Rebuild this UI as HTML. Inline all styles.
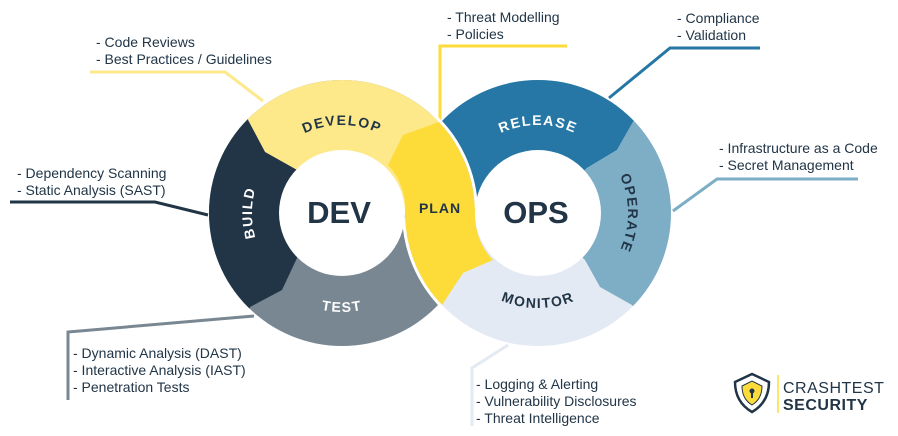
<!DOCTYPE html>
<html><head><meta charset="utf-8"><style>
html,body{margin:0;padding:0;background:#fff;}
svg{display:block;font-family:"Liberation Sans",sans-serif;}
.t{font-size:14px;fill:#213547;}
.seg{font-size:14px;font-weight:bold;letter-spacing:1.5px;}
</style></head><body>
<svg width="898" height="436" viewBox="0 0 898 436">
<defs>
<clipPath id="cl"><path clip-rule="evenodd" d="M209 213a133 133 0 1 0 266 0a133 133 0 1 0 -266 0Z"/></clipPath>
<clipPath id="cr"><path d="M405 213a133 133 0 1 0 266 0a133 133 0 1 0 -266 0Z"/></clipPath>
<path id="pDev" d="M254 213 A88 88 0 0 1 430 213"/>
<path id="pBuild" d="M342 303 A90 90 0 0 1 342 123"/>
<path id="pTest" d="M243 213 A99 99 0 0 0 441 213"/>
<path id="pRel" d="M450 213 A88 88 0 0 1 626 213"/>
<path id="pOp" d="M538 123 A90 90 0 0 1 538 303"/>
<path id="pMon" d="M443 213 A95 95 0 0 0 633 213"/>
</defs>

<g fill="none" stroke-width="3">
<polyline points="90,72 225,72 263,101" stroke="#fde98a"/>
<polyline points="10,202 155,202 208,215" stroke="#213547"/>
<polyline points="440,120 440,46 567,46" stroke="#fddc3a"/>
<polyline points="609,98 670,48 760,48" stroke="#2677a5"/>
<polyline points="673,211 717,179 858,179" stroke="#7daec6"/>
<polyline points="254,316 68,332 68,400" stroke="#788792"/>
<polyline points="508,345 472,368 472,426" stroke="#e3eaf3"/>
</g>

<g clip-path="url(#cl)">
<rect x="200" y="70" width="290" height="290" fill="#788792"/>
<polygon points="342,213 297,170 265,152 248,120 230,60 490,60 490,213" fill="#fde98a"/>
<polygon points="342,213 297,170 265,152 248,120 230,60 180,60 180,360 240,340 250,307 282,290 297,258" fill="#213547"/>
</g>
<g clip-path="url(#cr)">
<rect x="400" y="70" width="290" height="290" fill="#e3eaf3"/>
<polygon points="538,213 587,168 617,150 633,122 690,60 440,60 440,118 476,200" fill="#2677a5"/>
<polygon points="538,213 587,168 617,150 633,122 690,60 690,380 632,305 600,287 585,260" fill="#7daec6"/>
</g>
<path d="M388 165 A63 63 0 0 1 405 213 A133 133 0 0 0 442 305 L463 273 L493 260 A65 65 0 0 1 475 213 A133 133 0 0 0 439 122 L403 135 Z" fill="#fddc3a"/>
<path d="M403.6 217.7 A134.5 134.5 0 0 0 441.3 306.4" fill="none" stroke="#fff" stroke-width="3"/>
<path d="M476.4 208.3 A134.5 134.5 0 0 0 433.7 114.6" fill="none" stroke="#fff" stroke-width="3"/>
<circle cx="342" cy="213" r="63" fill="#fff"/>
<circle cx="538" cy="213" r="63" fill="#fff"/>

<text class="seg" fill="#213547"><textPath href="#pDev" startOffset="50%" text-anchor="middle">DEVELOP</textPath></text>
<text class="seg" fill="#fff"><textPath href="#pBuild" startOffset="50%" text-anchor="middle">BUILD</textPath></text>
<text class="seg" fill="#fff"><textPath href="#pTest" startOffset="50%" text-anchor="middle">TEST</textPath></text>
<text class="seg" fill="#fff"><textPath href="#pRel" startOffset="50%" text-anchor="middle">RELEASE</textPath></text>
<text class="seg" fill="#213547"><textPath href="#pOp" startOffset="50%" text-anchor="middle">OPERATE</textPath></text>
<text class="seg" fill="#213547"><textPath href="#pMon" startOffset="50%" text-anchor="middle">MONITOR</textPath></text>
<text x="440" y="213" font-size="14" font-weight="bold" fill="#213547" text-anchor="middle" letter-spacing="1">PLAN</text>
<text x="339" y="223" font-size="31" font-weight="bold" fill="#213547" text-anchor="middle">DEV</text>
<text x="536" y="223" font-size="31" font-weight="bold" fill="#213547" text-anchor="middle">OPS</text>

<text class="t" x="96" y="47">- Code Reviews</text>
<text class="t" x="96" y="64">- Best Practices / Guidelines</text>
<text class="t" x="17" y="178">- Dependency Scanning</text>
<text class="t" x="17" y="195">- Static Analysis (SAST)</text>
<text class="t" x="447" y="22">- Threat Modelling</text>
<text class="t" x="447" y="39">- Policies</text>
<text class="t" x="677" y="23">- Compliance</text>
<text class="t" x="677" y="40">- Validation</text>
<text class="t" x="719" y="153">- Infrastructure as a Code</text>
<text class="t" x="719" y="170">- Secret Management</text>
<text class="t" x="73" y="358">- Dynamic Analysis (DAST)</text>
<text class="t" x="73" y="375">- Interactive Analysis (IAST)</text>
<text class="t" x="73" y="392">- Penetration Tests</text>
<text class="t" x="476" y="389">- Logging &amp; Alerting</text>
<text class="t" x="476" y="406">- Vulnerability Disclosures</text>
<text class="t" x="476" y="423">- Threat Intelligence</text>

<path d="M735 382 L752 374 L769 382 Q769 402 752 412 Q735 402 735 382Z" fill="none" stroke="#213547" stroke-width="2.5"/>
<path d="M742 386 L752 381 L762 386 Q762 399 752 405 Q742 399 742 386Z" fill="#fddc3a" stroke="#213547" stroke-width="1"/>
<circle cx="752" cy="391" r="2.5" fill="#213547"/>
<rect x="751" y="392" width="2" height="6" fill="#213547"/>
<line x1="778" y1="375" x2="778" y2="413" stroke="#fddc3a" stroke-width="1.5"/>
<text x="783" y="393" font-size="16" fill="#213547" letter-spacing="0.5">CRASHTEST</text>
<text x="783" y="410" font-size="16" font-weight="bold" fill="#213547" letter-spacing="0.5">SECURITY</text>
</svg>
</body></html>
